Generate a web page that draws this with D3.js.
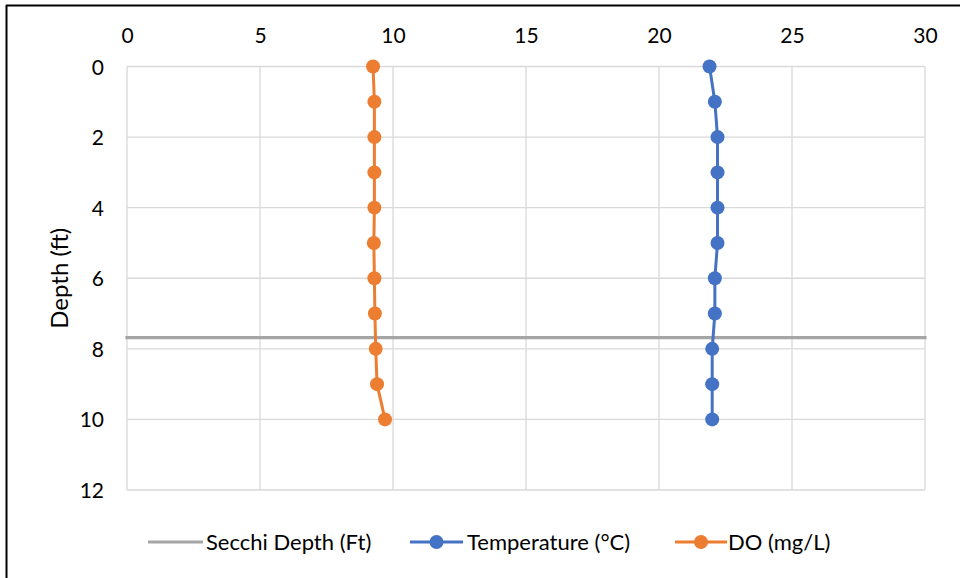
<!DOCTYPE html>
<html>
<head>
<meta charset="utf-8">
<script src="https://cdn.jsdelivr.net/npm/d3@7"></script>
<style>
  html, body { margin: 0; padding: 0; background: #fff; }
  svg { display: block; }
  text { font-family: Lato, "Liberation Sans", sans-serif; fill: #000; }
</style>
</head>
<body>
<svg id="chart" width="960" height="578"></svg>
<script>
const depths = [0, 1, 2, 3, 4, 5, 6, 7, 8, 9, 10];
const temperature = [21.9, 22.1, 22.2, 22.2, 22.2, 22.2, 22.1, 22.1, 22.0, 22.0, 22.0];
const dissolvedOxygen = [9.25, 9.3, 9.3, 9.3, 9.3, 9.28, 9.3, 9.32, 9.35, 9.4, 9.7];
const secchiDepth = 7.68;
const secchiX = [0, 30];
const xTicks = [0, 5, 10, 15, 20, 25, 30];
const yTicks = [0, 2, 4, 6, 8, 10, 12];
const seriesNames = ["Secchi Depth (Ft)", "Temperature (°C)", "DO (mg/L)"];
const seriesColors = ["#A5A5A5", "#4472C4", "#ED7D31"];

const svg = d3.select("#chart");
const pLeft = 127, pRight = 925, pTop = 66.5, pBottom = 490;
const FONT = "Lato, 'Liberation Sans', sans-serif";

const x = d3.scaleLinear().domain([0, 30]).range([pLeft, pRight]);
const y = d3.scaleLinear().domain([0, 12]).range([pTop, pBottom]);

// outer border (left and top visible)
svg.append("line").attr("x1", 6.5).attr("x2", 6.5).attr("y1", 5).attr("y2", 578)
  .attr("stroke", "#000").attr("stroke-width", 2);
svg.append("line").attr("x1", 6).attr("x2", 960).attr("y1", 5.5).attr("y2", 5.5)
  .attr("stroke", "#000").attr("stroke-width", 2);

// gridlines
const grid = svg.append("g");
grid.selectAll(".vg").data(xTicks).enter().append("line")
  .attr("x1", d => x(d)).attr("x2", d => x(d)).attr("y1", pTop).attr("y2", pBottom)
  .attr("stroke", "#D9D9D9").attr("stroke-width", 1.3);
grid.selectAll(".hg").data(yTicks).enter().append("line")
  .attr("x1", pLeft).attr("x2", pRight).attr("y1", d => y(d)).attr("y2", d => y(d))
  .attr("stroke", "#D9D9D9").attr("stroke-width", 1.3);

// axes labels via d3 axes
const xAxis = svg.append("g").attr("transform", `translate(0,43)`)
  .call(d3.axisTop(x).tickValues(xTicks).tickSize(0).tickPadding(0));
xAxis.select(".domain").remove();
xAxis.selectAll("text").attr("font-size", 21).attr("font-family", FONT).attr("fill", "#000");

const yAxis = svg.append("g").attr("transform", `translate(104,0)`)
  .call(d3.axisLeft(y).tickValues(yTicks).tickSize(0).tickPadding(0));
yAxis.select(".domain").remove();
yAxis.selectAll("text").attr("font-size", 21).attr("font-family", FONT).attr("fill", "#000")
  .attr("dy", "0.36em");

svg.append("text").attr("transform", `translate(59,${(pTop + pBottom) / 2}) rotate(-90)`)
  .attr("text-anchor", "middle").attr("dy", "0.36em").attr("font-size", 24).text("Depth (ft)");

// Secchi line
const line = d3.line().x(d => x(d[0])).y(d => y(d[1]));
svg.append("path").datum(secchiX.map(v => [v, secchiDepth]))
  .attr("d", line).attr("fill", "none").attr("stroke", seriesColors[0])
  .attr("stroke-width", 3.2).attr("stroke-linecap", "square");

function drawSeries(vals, color) {
  const pts = vals.map((v, i) => [v, depths[i]]);
  svg.append("path").datum(pts).attr("d", line).attr("fill", "none")
    .attr("stroke", color).attr("stroke-width", 3).attr("stroke-linejoin", "round");
  svg.selectAll(null).data(pts).enter().append("circle")
    .attr("cx", d => x(d[0])).attr("cy", d => y(d[1])).attr("r", 7)
    .attr("fill", color);
}
drawSeries(temperature, seriesColors[1]);
drawSeries(dissolvedOxygen, seriesColors[2]);

// legend
const legendY = 542;
const legendItems = [
  { x0: 148, x1: 203, tx: 206, marker: false },
  { x0: 410, x1: 463, tx: 467, marker: true },
  { x0: 675, x1: 727, tx: 728, marker: true }
];
const lg = svg.append("g");
legendItems.forEach((it, i) => {
  lg.append("line").attr("x1", it.x0).attr("x2", it.x1).attr("y1", legendY).attr("y2", legendY)
    .attr("stroke", seriesColors[i]).attr("stroke-width", 3.2);
  if (it.marker) {
    lg.append("circle").attr("cx", (it.x0 + it.x1) / 2).attr("cy", legendY).attr("r", 7)
      .attr("fill", seriesColors[i]);
  }
  lg.append("text").attr("x", it.tx).attr("y", legendY).attr("dy", "0.36em")
    .attr("font-size", 22).text(seriesNames[i]);
});
</script>
</body>
</html>
